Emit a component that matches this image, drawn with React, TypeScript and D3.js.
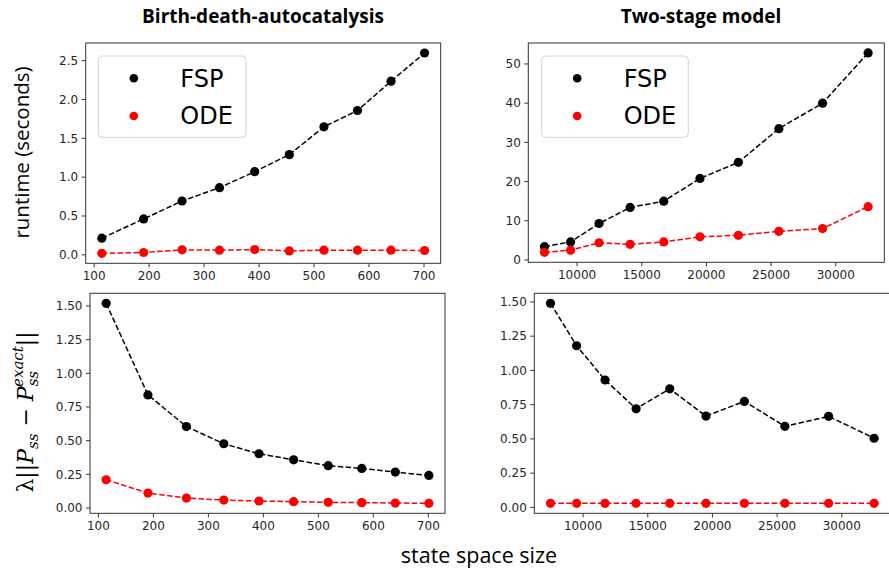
import * as d3 from 'd3';
import React from 'react';

// state space sizes
const bdaSizes = [114, 190, 260, 328, 392, 455, 518, 579, 640, 701];
const tsSizes = [7480, 9500, 11700, 14100, 16700, 19500, 22470, 25600, 28980, 32500];

// runtime (seconds)
const bdaRuntimeFSP = [0.214, 0.462, 0.693, 0.865, 1.07, 1.29, 1.648, 1.858, 2.235, 2.598];
const bdaRuntimeODE = [0.02, 0.03, 0.064, 0.06, 0.068, 0.051, 0.06, 0.06, 0.06, 0.056];
const tsRuntimeFSP = [3.4, 4.6, 9.3, 13.4, 15.0, 20.8, 24.9, 33.5, 40.0, 52.8];
const tsRuntimeODE = [1.95, 2.5, 4.4, 4.0, 4.6, 5.9, 6.3, 7.3, 8.0, 13.6];

// error vs exact steady state
const bdaErrorFSP = [1.52, 0.84, 0.605, 0.477, 0.403, 0.358, 0.314, 0.294, 0.267, 0.242];
const bdaErrorODE = [0.21, 0.111, 0.074, 0.059, 0.052, 0.047, 0.042, 0.04, 0.037, 0.035];
const tsErrorFSP = [1.49, 1.18, 0.93, 0.72, 0.866, 0.667, 0.774, 0.592, 0.665, 0.505];
const tsErrorODE = [0.03, 0.03, 0.03, 0.03, 0.03, 0.03, 0.03, 0.03, 0.03, 0.03];

// ticks
const bdaXTicks = [100, 200, 300, 400, 500, 600, 700];
const tsXTicks = [10000, 15000, 20000, 25000, 30000];
const bdaRuntimeTicks = [0, 0.5, 1.0, 1.5, 2.0, 2.5];
const tsRuntimeTicks = [0, 10, 20, 30, 40, 50];
const errorTicks = [0, 0.25, 0.5, 0.75, 1.0, 1.25, 1.5];

const titles = ['Birth-death-autocatalysis', 'Two-stage model'];
const seriesNames = ['FSP', 'ODE'];
const seriesColors = ['#000000', '#ff0000'];

const W = 889, H = 570;
const tickFont = 'DejaVu Sans';

function pad(vals) {
  const [a, b] = d3.extent(vals);
  const m = (b - a) * 0.05;
  return [a - m, b + m];
}

const panels = [
  { x: 85.7, y: 43, w: 355, h: 220.3, sizes: bdaSizes, fsp: bdaRuntimeFSP, ode: bdaRuntimeODE,
    xTicks: bdaXTicks, yTicks: bdaRuntimeTicks, yFmt: d3.format('.1f'), legendX: 98.3, legendW: 147.7 },
  { x: 528.3, y: 43, w: 356, h: 219.3, sizes: tsSizes, fsp: tsRuntimeFSP, ode: tsRuntimeODE,
    xTicks: tsXTicks, yTicks: tsRuntimeTicks, yFmt: d3.format('d'), legendX: 541.7, legendW: 146.6 },
  { x: 90, y: 293.3, w: 355, h: 220, sizes: bdaSizes, fsp: bdaErrorFSP, ode: bdaErrorODE,
    xTicks: bdaXTicks, yTicks: errorTicks, yFmt: d3.format('.2f') },
  { x: 534.3, y: 293.3, w: 356, h: 220, sizes: tsSizes, fsp: tsErrorFSP, ode: tsErrorODE,
    xTicks: tsXTicks, yTicks: errorTicks, yFmt: d3.format('.2f') },
];

function Panel({ p }) {
  const xs = d3.scaleLinear().domain(pad(p.sizes)).range([p.x, p.x + p.w]);
  const ys = d3.scaleLinear().domain(pad([...p.fsp, ...p.ode])).range([p.y + p.h, p.y]);
  const line = d3.line<number>().x((_, i) => xs(p.sizes[i])).y(d => ys(d));
  const bottom = p.y + p.h;
  return (
    <g>
      <rect x={p.x} y={p.y} width={p.w} height={p.h} fill="none" stroke="#333" strokeWidth={1} />
      {p.xTicks.map(t => (
        <g key={'x' + t}>
          <line x1={xs(t)} x2={xs(t)} y1={bottom} y2={bottom + 4} stroke="#333" />
          <text x={xs(t)} y={bottom + 17} textAnchor="middle" fontFamily={tickFont} fontSize={12} fill="#262626">{t}</text>
        </g>
      ))}
      {p.yTicks.map(t => (
        <g key={'y' + t}>
          <line x1={p.x - 4} x2={p.x} y1={ys(t)} y2={ys(t)} stroke="#333" />
          <text x={p.x - 7.5} y={ys(t) + 4.3} textAnchor="end" fontFamily={tickFont} fontSize={12} fill="#262626">{p.yFmt(t)}</text>
        </g>
      ))}
      {[p.fsp, p.ode].map((vals, si) => (
        <g key={'s' + si}>
          <path d={line(vals)} fill="none" stroke={seriesColors[si]} strokeWidth={1.5} strokeDasharray="5.5,2.4" />
          {vals.map((v, i) => (
            <circle key={i} cx={xs(p.sizes[i])} cy={ys(v)} r={4.6} fill={seriesColors[si]} />
          ))}
        </g>
      ))}
      {p.legendX !== undefined && (
        <g>
          <rect x={p.legendX} y={56} width={p.legendW} height={81.3} rx={4} fill="#fff" fillOpacity={0.8} stroke="#d5d5d5" />
          {seriesNames.map((n, i) => (
            <g key={n}>
              <circle cx={p.legendX + 35.5} cy={78.3 + i * 37.7} r={4.3} fill={seriesColors[i]} />
              <text x={p.legendX + 82} y={86.5 + i * 37.3} fontFamily={tickFont} fontSize={24} fill="#000">{n}</text>
            </g>
          ))}
        </g>
      )}
    </g>
  );
}

export default function App() {
  return (
    <svg width={W} height={H} style={{ position: 'absolute', left: 0, top: 0, background: '#fff' }}>
      <rect width={W} height={H} fill="#fff" />
      {panels.map((p, i) => <Panel key={i} p={p} />)}
      <text x={263} y={23} textAnchor="middle" fontFamily="Open Sans" fontWeight="bold" fontSize={19}>{titles[0]}</text>
      <text x={701} y={23} textAnchor="middle" fontFamily="Open Sans" fontWeight="bold" fontSize={19}>{titles[1]}</text>
      <text transform="translate(28.5,152.5) rotate(-90)" textAnchor="middle" fontFamily="Open Sans" fontSize={20.5}>runtime (seconds)</text>
      <text transform="translate(33,412) rotate(-90)" textAnchor="middle" fontFamily="DejaVu Serif" fontSize={22}>
        <tspan>λ||</tspan>
        <tspan fontStyle="italic">P</tspan>
        <tspan fontStyle="italic" fontSize={15} dy={5}>ss</tspan>
        <tspan dy={-5}> − </tspan>
        <tspan fontStyle="italic">P</tspan>
        <tspan fontStyle="italic" fontSize={15} dy={5}>ss</tspan>
        <tspan fontStyle="italic" fontSize={15} dx={-16} dy={-15}>exact</tspan>
        <tspan dy={10}>||</tspan>
      </text>
      <text x={479} y={563} textAnchor="middle" fontFamily="Open Sans" fontSize={21.5}>state space size</text>
    </svg>
  );
}
